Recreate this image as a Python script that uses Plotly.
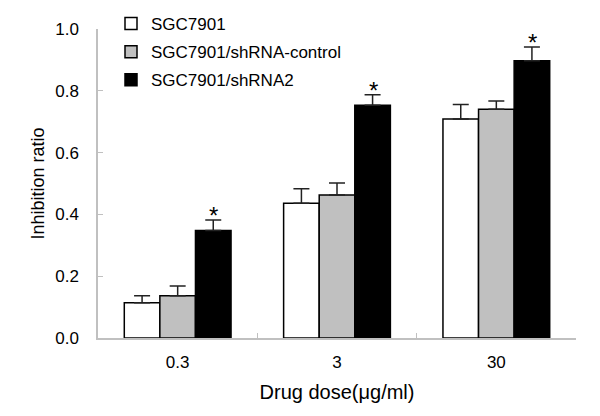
import plotly.graph_objects as go

doses = ["0.3", "3", "30"]
series_names = ["SGC7901", "SGC7901/shRNA-control", "SGC7901/shRNA2"]
sgc7901 = [0.114, 0.436, 0.709]
sgc7901_err = [0.023, 0.047, 0.047]
shrna_control = [0.137, 0.463, 0.740]
shrna_control_err = [0.031, 0.039, 0.027]
shrna2 = [0.348, 0.753, 0.897]
shrna2_err = [0.034, 0.034, 0.045]
significant = [True, True, True]

FONT = "Liberation Sans, Arial, sans-serif"
fills = ["#ffffff", "#c0c0c0", "#000000"]
values = [sgc7901, shrna_control, shrna2]
errs = [sgc7901_err, shrna_control_err, shrna2_err]

fig = go.Figure()
for i, (name, v, e, c) in enumerate(zip(series_names, values, errs, fills)):
    fig.add_trace(go.Bar(
        x=doses, y=v, name=name, legendgroup="g%d" % i,
        marker=dict(color=c, line=dict(color="#000000", width=1.5)),
        error_y=dict(type="data", array=e, arrayminus=[0] * len(e), symmetric=False,
                     color="#222222", thickness=1.5, width=8),
    ))

for i, (v, e, s) in enumerate(zip(shrna2, shrna2_err, significant)):
    if s:
        fig.add_annotation(x=i, y=v + e, text="*", showarrow=False, xshift=36,
                           yanchor="bottom", yshift=-11,
                           font=dict(family=FONT, size=24, color="#000000"))

# y-axis title as rotated text (left of the tick labels)
fig.add_annotation(xref="paper", yref="paper", x=(37 - 98) / 478, y=0.5,
                   text="Inhibition ratio", textangle=-90, showarrow=False,
                   xanchor="center", yanchor="middle",
                   font=dict(family=FONT, size=18, color="#000000"))

fig.update_layout(
    width=600, height=416,
    paper_bgcolor="white", plot_bgcolor="white",
    margin=dict(l=98, r=24, t=29, b=78, autoexpand=False),
    barmode="group", bargap=0.33, bargroupgap=0,
    font=dict(family=FONT, size=17, color="#000000"),
    showlegend=True,
    legend=dict(x=111 / 600, y=1 - 6 / 416, xref="container", yref="container",
                xanchor="left", yanchor="top",
                bgcolor="rgba(0,0,0,0)", font=dict(size=17), itemwidth=30,
                traceorder="grouped", tracegroupgap=3),
    xaxis=dict(title=dict(text="Drug dose(μg/ml)", standoff=14), showline=True,
               linecolor="#c0c0c0", linewidth=1.5, ticks="inside", tickson="boundaries",
               ticklen=5, tickcolor="#c0c0c0", showgrid=False, range=[-0.5, 2.5],
               ticklabelstandoff=8),
    yaxis=dict(showline=True,
               linecolor="#c0c0c0", linewidth=1.5, ticks="inside", ticklen=5,
               tickcolor="#c0c0c0", showgrid=False, zeroline=False,
               range=[0, 1.0], dtick=0.2, tickformat=".1f",
               ticklabelstandoff=14),
)

fig.write_html("out.html", config={"displayModeBar": False},
               post_script="document.body.style.margin='0';document.body.style.padding='0';")
